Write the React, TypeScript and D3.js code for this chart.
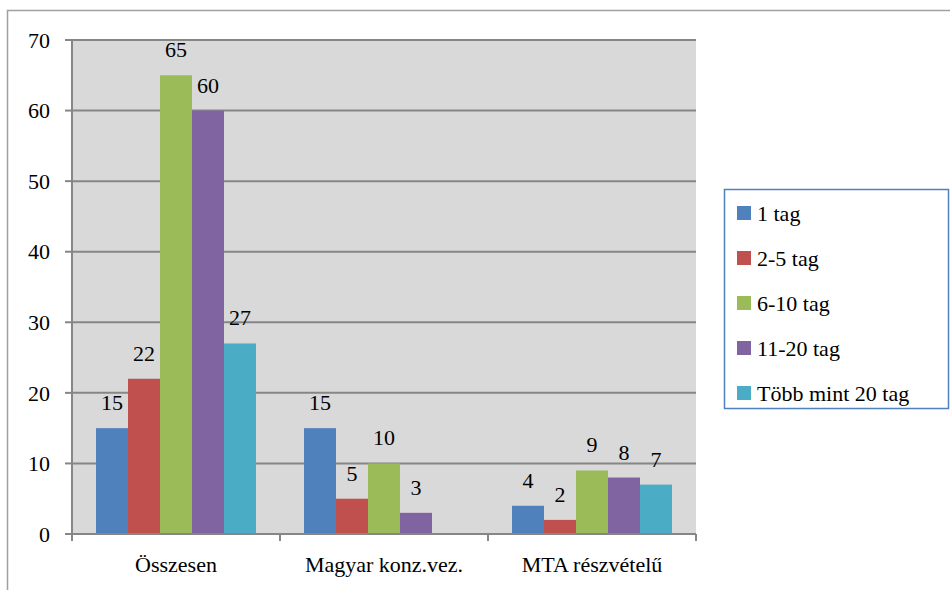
import React from "react";
import * as d3 from "d3";

const categories = ["Összesen", "Magyar konz.vez.", "MTA részvételű"];
const seriesNames = ["1 tag", "2-5 tag", "6-10 tag", "11-20 tag", "Több mint 20 tag"];
const seriesColors = ["#4f81bd", "#c0504d", "#9bbb59", "#8064a2", "#4bacc6"];
const values1tag = [15, 15, 4];
const values2to5 = [22, 5, 2];
const values6to10 = [65, 10, 9];
const values11to20 = [60, 3, 8];
const valuesOver20: (number | null)[] = [27, null, 7];
const yTicks = [0, 10, 20, 30, 40, 50, 60, 70];

const seriesValues = [values1tag, values2to5, values6to10, values11to20, valuesOver20];

const FONT = "Liberation Serif";
const FS = 22;

export default function App() {
  const W = 950, H = 590;
  const left = 72, right = 696, top = 40, bottom = 534;
  const x0 = d3.scaleBand<string>().domain(categories).range([left, right]).paddingInner(0).paddingOuter(0);
  const groupW = x0.bandwidth();
  const barW = groupW / 6.5;
  const y = d3.scaleLinear().domain([0, 70]).range([bottom, top]);
  const x1 = d3.scaleBand<number>().domain(d3.range(5)).range([0.75 * barW, groupW - 0.75 * barW]).padding(0);

  return (
    <svg width={W} height={H} fontFamily={FONT} style={{ position: "absolute", left: 0, top: 0, display: "block", background: "#fff" }}>
      <style>{`svg text, text { font-family: "Liberation Serif", serif !important; }`}</style>
      {/* outer frame */}
      <rect x={7.5} y={10.5} width={W + 10} height={H + 10} fill="none" stroke="#a0a0a0" strokeWidth={1.5} />
      {/* plot area */}
      <rect x={left} y={top} width={right - left} height={bottom - top} fill="#d9d9d9" />
      {yTicks.map((t) => (
        <g key={t}>
          {t > 0 && <line x1={left} x2={right} y1={y(t)} y2={y(t)} stroke="#868686" strokeWidth={2} />}
          <line x1={left - 7} x2={left} y1={y(t)} y2={y(t)} stroke="#868686" strokeWidth={2} />
          <text x={left - 22} y={y(t)} dy="0.35em" textAnchor="end" fontFamily={FONT} fontSize={FS} fill="#000">{t}</text>
        </g>
      ))}
      {/* bars */}
      {categories.map((c, ci) => (
        <g key={c} transform={`translate(${x0(c)},0)`}>
          {seriesValues.map((vals, si) => {
            const v = vals[ci];
            if (v === null || v === undefined) return null;
            const bx = x1(si)!;
            return (
              <g key={si}>
                <rect x={bx} y={y(v)} width={x1.bandwidth()} height={bottom - y(v)} fill={seriesColors[si]} />
                <text x={bx + x1.bandwidth() / 2} y={y(v) - 18} textAnchor="middle" fontFamily={FONT} fontSize={FS} fill="#000">{v}</text>
              </g>
            );
          })}
        </g>
      ))}
      {/* axes */}
      <line x1={left} x2={left} y1={top} y2={bottom} stroke="#868686" strokeWidth={2} />
      <line x1={left} x2={right} y1={bottom} y2={bottom} stroke="#868686" strokeWidth={2} />
      {[...categories.map((c) => x0(c)!), right].map((xx, i) => (
        <line key={i} x1={xx} x2={xx} y1={bottom} y2={bottom + 7} stroke="#868686" strokeWidth={2} />
      ))}
      {categories.map((c) => (
        <text key={c} x={x0(c)! + groupW / 2} y={572} textAnchor="middle" fontFamily={FONT} fontSize={FS} fill="#000">{c}</text>
      ))}
      {/* legend */}
      <rect x={724.5} y={189.5} width={224} height={219} fill="#fff" stroke="#4f81bd" strokeWidth={1.5} />
      {seriesNames.map((n, i) => (
        <g key={n} transform={`translate(737, ${213 + i * 45})`}>
          <rect x={0} y={-7} width={14} height={14} fill={seriesColors[i]} />
          <text x={20} y={0} dy="0.35em" fontFamily={FONT} fontSize={FS} fill="#000">{n}</text>
        </g>
      ))}
    </svg>
  );
}
